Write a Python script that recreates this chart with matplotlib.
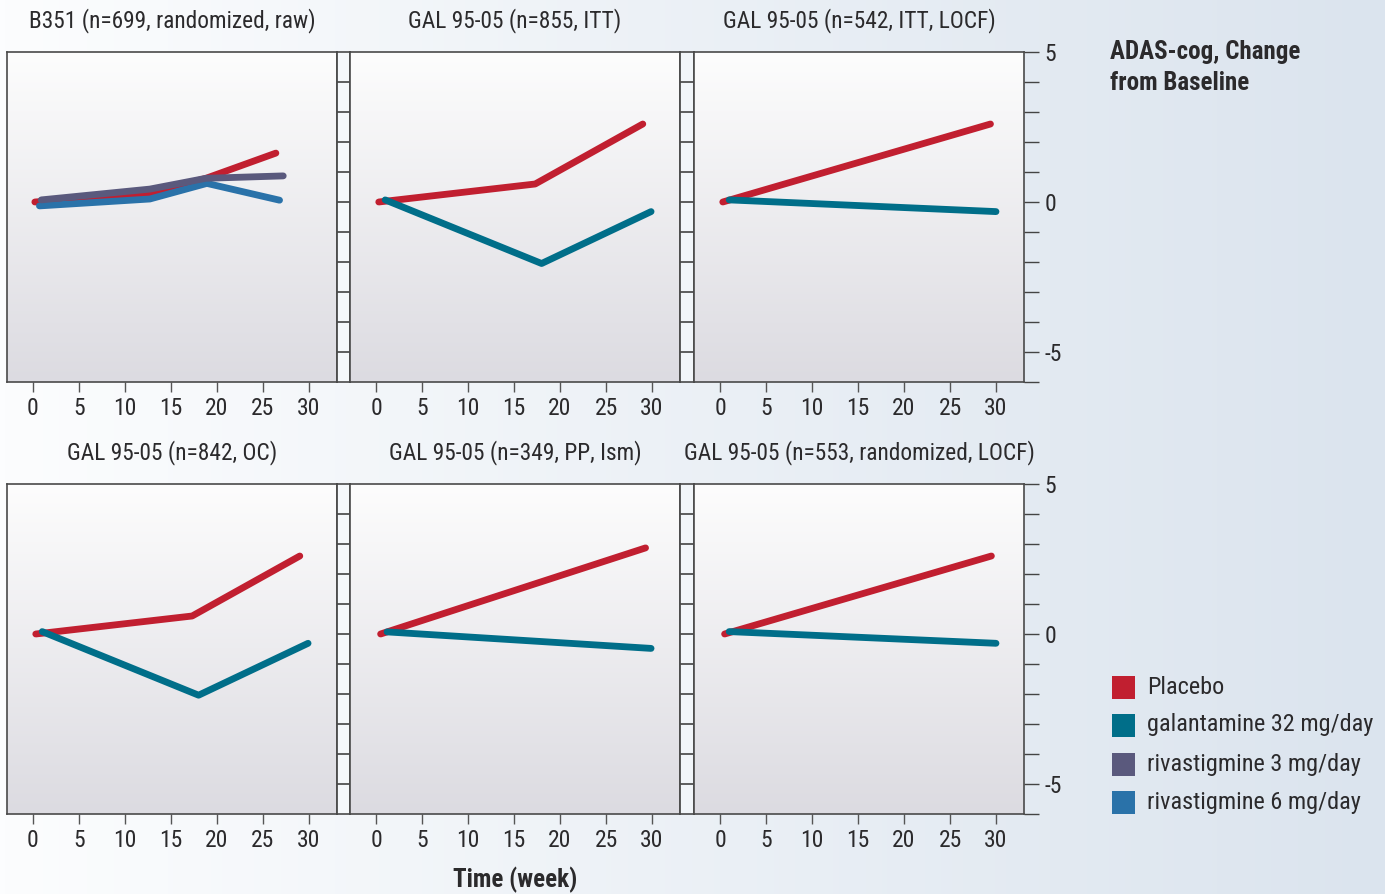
import numpy as np
import matplotlib
matplotlib.use("Agg")
import matplotlib.pyplot as plt
from matplotlib.patches import Rectangle
import matplotlib.colors as mcolors

# ---------------- data ----------------
panel_titles = [
    "B351 (n=699, randomized, raw)",
    "GAL 95-05 (n=855, ITT)",
    "GAL 95-05 (n=542, ITT, LOCF)",
    "GAL 95-05 (n=842, OC)",
    "GAL 95-05 (n=349, PP, Ism)",
    "GAL 95-05 (n=553, randomized, LOCF)",
]
series_names = ["Placebo", "galantamine 32 mg/day", "rivastigmine 3 mg/day", "rivastigmine 6 mg/day"]
series_colors = ["#c11f30", "#006e89", "#5a597d", "#2a72a9"]

x_ticks = [0, 5, 10, 15, 20, 25, 30]
y_tick_labels = {5: "5", 0: "0", -5: "-5"}

# panel 1: B351
p1_placebo_x = [0.2, 12.7, 18.8, 26.4]
p1_placebo_y = [0.0, 0.29, 0.79, 1.63]
p1_riva3_x = [0.9, 12.7, 18.8, 27.2]
p1_riva3_y = [0.07, 0.43, 0.79, 0.87]
p1_riva6_x = [0.7, 12.7, 18.9, 26.8]
p1_riva6_y = [-0.13, 0.10, 0.62, 0.06]

# panel 2: GAL 95-05 ITT
p2_placebo_x = [0.3, 17.3, 29.0]
p2_placebo_y = [0.0, 0.60, 2.60]
p2_gal_x = [1.0, 18.0, 29.9]
p2_gal_y = [0.07, -2.05, -0.32]

# panel 3: GAL 95-05 ITT LOCF
p3_placebo_x = [0.3, 29.4]
p3_placebo_y = [0.0, 2.60]
p3_gal_x = [1.0, 30.0]
p3_gal_y = [0.07, -0.32]

# panel 4: GAL 95-05 OC
p4_placebo_x = [0.3, 17.3, 29.0]
p4_placebo_y = [0.0, 0.60, 2.60]
p4_gal_x = [1.0, 18.0, 29.9]
p4_gal_y = [0.08, -2.04, -0.31]

# panel 5: GAL 95-05 PP
p5_placebo_x = [0.5, 29.3]
p5_placebo_y = [0.0, 2.87]
p5_gal_x = [1.2, 29.9]
p5_gal_y = [0.07, -0.48]

# panel 6: GAL 95-05 randomized LOCF
p6_placebo_x = [0.5, 29.5]
p6_placebo_y = [0.0, 2.60]
p6_gal_x = [1.0, 30.0]
p6_gal_y = [0.08, -0.31]

panels = [
    [(0, p1_placebo_x, p1_placebo_y), (3, p1_riva6_x, p1_riva6_y), (2, p1_riva3_x, p1_riva3_y)],
    [(0, p2_placebo_x, p2_placebo_y), (1, p2_gal_x, p2_gal_y)],
    [(0, p3_placebo_x, p3_placebo_y), (1, p3_gal_x, p3_gal_y)],
    [(0, p4_placebo_x, p4_placebo_y), (1, p4_gal_x, p4_gal_y)],
    [(0, p5_placebo_x, p5_placebo_y), (1, p5_gal_x, p5_gal_y)],
    [(0, p6_placebo_x, p6_placebo_y), (1, p6_gal_x, p6_gal_y)],
]

# ---------------- style ----------------
FONT = ["Liberation Sans Narrow", "Roboto Condensed", "Liberation Sans", "DejaVu Sans"]
plt.rcParams["font.family"] = FONT
TXT = "#2b2a2c"
SPINE = "#4a4a4a"
FS = 17.5
FS_TITLE = 16.8

W, H = 1385, 894
fig = plt.figure(figsize=(W / 100, H / 100), dpi=100)


def fx(px):
    return px / W


def fy(py):
    return 1 - py / H


def grad(c1, c2, n=256, horizontal=False):
    a = np.array(mcolors.to_rgb(c1))
    b = np.array(mcolors.to_rgb(c2))
    t = np.linspace(0, 1, n)
    arr = a[None, :] * (1 - t[:, None]) + b[None, :] * t[:, None]
    if horizontal:
        return arr[None, :, :]
    return arr[:, None, :]


# figure background
bg = fig.add_axes([0, 0, 1, 1], zorder=-10)
bg.imshow(grad("#fcfdfe", "#dbe4ee", horizontal=True), aspect="auto", extent=[0, 1, 0, 1])
bg.set_xlim(0, 1)
bg.set_ylim(0, 1)
bg.axis("off")

col_lefts = [7, 350, 694]
row_tops = [52, 484]
PW, PH = 330, 330
X0_OFF = 26.0
XSCALE = 9.2
xlim = (-X0_OFF / XSCALE, (PW - X0_OFF) / XSCALE)
ylim = (-6, 5)

for i in range(6):
    r, c = divmod(i, 3)
    left, top = col_lefts[c], row_tops[r]
    ax = fig.add_axes([fx(left), fy(top + PH), PW / W, PH / H])
    ax.set_facecolor("none")
    ax.imshow(grad("#fdfdfd", "#dcdbe1"), aspect="auto", extent=[0, 1, 0, 1],
              transform=ax.transAxes, zorder=0)
    for (si, xs, ys) in panels[i]:
        ax.plot(xs, ys, color=series_colors[si], lw=4.9, solid_capstyle="round",
                solid_joinstyle="round", zorder=3)
    ax.set_xlim(*xlim)
    ax.set_ylim(*ylim)
    for s in ax.spines.values():
        s.set_color(SPINE)
        s.set_linewidth(1.2)
    ax.set_xticks(x_ticks)
    ax.set_xticklabels([str(t) for t in x_ticks])
    ax.tick_params(axis="x", direction="out", length=7.5, width=1.0, color="#555555",
                   labelsize=17, labelcolor=TXT, pad=3)
    if c == 2:
        ax.yaxis.tick_right()
        yt = list(range(-6, 6))
        ax.set_yticks(yt)
        ax.set_yticklabels([y_tick_labels.get(t, "") for t in yt])
        ax.tick_params(axis="y", direction="out", length=11, width=1.0, color="#444444",
                       labelsize=17, labelcolor=TXT, pad=4)
    else:
        ax.set_yticks([])
        # separator strip with tick marks
        sl = left + PW
        sw = col_lefts[c + 1] - sl
        sax = fig.add_axes([fx(sl), fy(top + PH), sw / W, PH / H])
        sax.set_facecolor((0.97, 0.98, 0.99, 0.55))
        sax.set_xlim(0, 1)
        sax.set_ylim(*ylim)
        for yv in range(-5, 5):
            sax.axhline(yv, color="#333333", lw=1.1)
        sax.set_xticks([])
        sax.set_yticks([])
        for s in sax.spines.values():
            s.set_color(SPINE)
            s.set_linewidth(1.2)
    # title
    fig.text(fx(left + PW / 2), fy(top - 31), panel_titles[i], ha="center", va="center",
             fontsize=FS_TITLE, color=TXT)

# axis title texts
fig.text(fx(1110), fy(52), "ADAS-cog, Change", ha="left", va="center", fontsize=18,
         fontweight="bold", color=TXT)
fig.text(fx(1110), fy(83), "from Baseline", ha="left", va="center", fontsize=18,
         fontweight="bold", color=TXT)
fig.text(fx(515), fy(880), "Time (week)", ha="center", va="center", fontsize=18,
         fontweight="bold", color=TXT)

# legend
leg_y = [687, 725, 764, 802]
for name, col, yc in zip(series_names, series_colors, leg_y):
    fig.patches.append(Rectangle((fx(1112), fy(yc + 11.5)), 23 / W, 23 / H,
                                 transform=fig.transFigure, facecolor=col, edgecolor="none"))
    fig.text(fx(1147), fy(yc), name, ha="left", va="center", fontsize=FS, color=TXT)

fig.savefig("out.png", dpi=100)
